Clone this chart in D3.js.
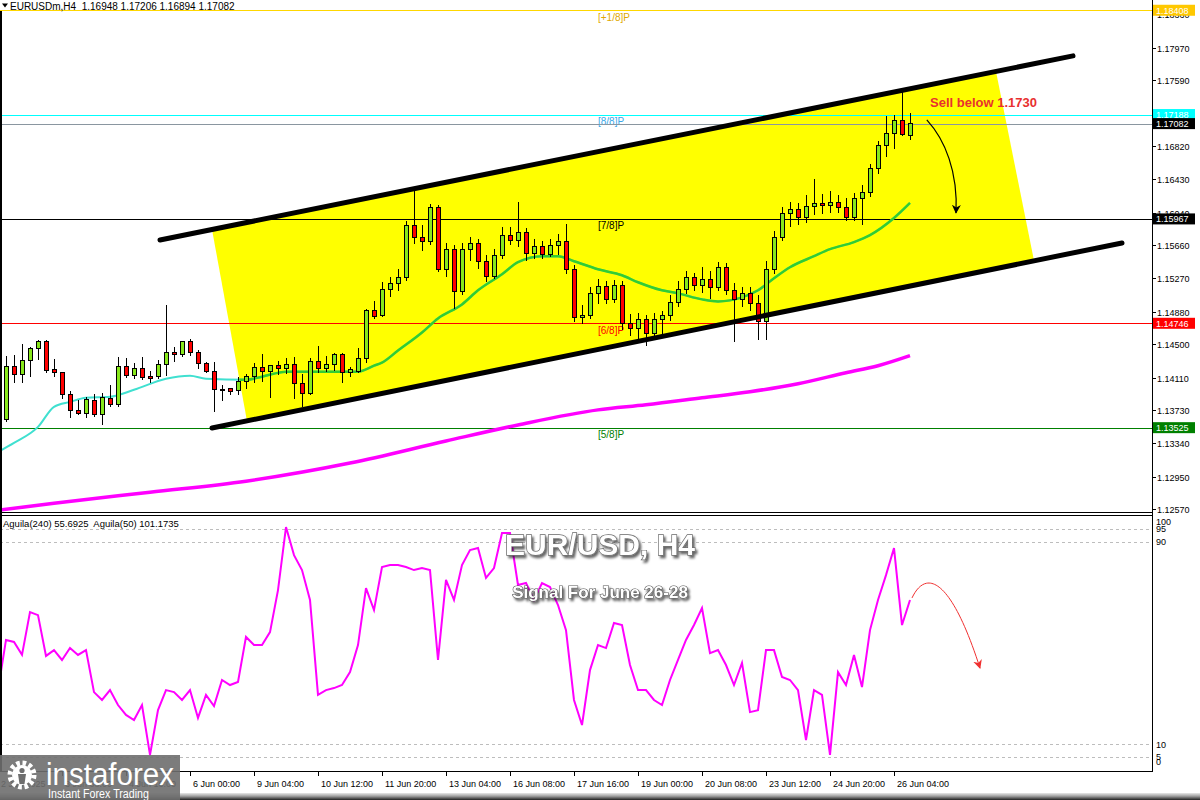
<!DOCTYPE html>
<html><head><meta charset="utf-8">
<script src="https://cdn.jsdelivr.net/npm/d3@7/dist/d3.min.js"></script>
<style>
html,body{margin:0;padding:0;background:#fff;}
svg{display:block;}
text{font-family:"Liberation Sans",Arial,sans-serif;white-space:pre;}
</style></head><body>
<svg id="chart" width="1200" height="800"></svg>
<script>
// ---------------- DATA ----------------
const symbol = "EURUSDm,H4";
const opens = [1.13616,1.14239,1.14145,1.14309,1.14450,1.14532,1.14203,1.14168,1.13910,1.13722,
1.13686,1.13839,1.13675,1.13863,1.13792,1.14239,1.14133,1.14215,1.14121,1.14121,
1.14262,1.14403,1.14380,1.14532,1.14403,1.14274,1.14180,1.13968,1.13980,1.13957,
1.14062,1.14121,1.14227,1.14180,1.14250,1.14215,1.14262,1.14039,1.13921,1.14297,
1.14215,1.14262,1.14380,1.14168,1.14180,1.14333,1.14897,1.14838,1.15143,1.15214,
1.15284,1.15895,1.15754,1.15707,1.16095,1.15378,1.15613,1.15120,1.15613,1.15684,
1.15472,1.15296,1.15543,1.15778,1.15719,1.15813,1.15566,1.15649,1.15555,1.15660,
1.15707,1.15378,1.14814,1.14838,1.15096,1.15179,1.15026,1.15190,1.14744,1.14685,
1.14791,1.14626,1.14791,1.14838,1.14991,1.15143,1.15284,1.15190,1.15261,1.15167,
1.15402,1.15132,1.15026,1.15096,1.14979,1.14767,1.15378,1.15754,1.16036,1.16083,
1.15989,1.16107,1.16142,1.16119,1.16154,1.16095,1.15989,1.16201,1.16271,1.16553,
1.16824,1.16965,1.17117,1.16948];
const highs = [1.14368,1.14380,1.14509,1.14474,1.14556,1.14556,1.14333,1.14180,1.13957,1.13851,
1.13886,1.13921,1.13933,1.14027,1.14356,1.14344,1.14286,1.14356,1.14192,1.14321,
1.14955,1.14474,1.14544,1.14568,1.14438,1.14297,1.14297,1.14027,1.13992,1.14121,
1.14156,1.14286,1.14391,1.14262,1.14309,1.14344,1.14356,1.14156,1.14344,1.14485,
1.14368,1.14403,1.14403,1.14239,1.14462,1.14909,1.15002,1.15226,1.15284,1.15378,
1.15942,1.16318,1.15895,1.16142,1.16130,1.15684,1.15660,1.15684,1.15754,1.15731,
1.15543,1.15613,1.15872,1.15872,1.16166,1.15860,1.15731,1.15707,1.15731,1.15790,
1.15907,1.15425,1.14955,1.15167,1.15261,1.15237,1.15249,1.15237,1.14850,1.14861,
1.14838,1.14861,1.14885,1.15073,1.15237,1.15355,1.15331,1.15402,1.15355,1.15461,
1.15449,1.15214,1.15167,1.15167,1.15073,1.15472,1.15825,1.16107,1.16166,1.16154,
1.16248,1.16436,1.16260,1.16295,1.16248,1.16212,1.16271,1.16365,1.16612,1.16882,
1.17176,1.17188,1.17470,1.17206];
const lows = [1.13592,1.14051,1.14051,1.14121,1.14321,1.14168,1.14121,1.13863,1.13639,1.13675,
1.13639,1.13651,1.13557,1.13769,1.13769,1.14109,1.14098,1.14086,1.14051,1.14098,
1.14133,1.14297,1.14356,1.14368,1.14215,1.14168,1.13710,1.13839,1.13910,1.13910,
1.13980,1.14051,1.14062,1.13874,1.14145,1.14156,1.13863,1.13769,1.13910,1.14168,
1.14180,1.14192,1.14051,1.14121,1.14168,1.14286,1.14791,1.14814,1.15049,1.15120,
1.15237,1.15672,1.15590,1.15660,1.15343,1.15284,1.14908,1.15073,1.15472,1.15378,
1.15226,1.15261,1.15496,1.15660,1.15637,1.15472,1.15496,1.15496,1.15519,1.15543,
1.15320,1.14756,1.14732,1.14791,1.14967,1.14967,1.14979,1.14673,1.14603,1.14556,
1.14485,1.14556,1.14579,1.14767,1.14932,1.15085,1.15120,1.15096,1.15026,1.15120,
1.15073,1.14532,1.14932,1.14885,1.14556,1.14556,1.15320,1.15707,1.15872,1.15895,
1.15919,1.16013,1.16025,1.16036,1.16036,1.15942,1.15942,1.15895,1.16224,1.16495,
1.16694,1.16788,1.16941,1.16894];
const closes = [1.14239,1.14145,1.14309,1.14450,1.14532,1.14192,1.14168,1.13910,1.13722,1.13686,
1.13851,1.13675,1.13874,1.13792,1.14239,1.14133,1.14215,1.14109,1.14098,1.14262,
1.14403,1.14380,1.14532,1.14403,1.14274,1.14180,1.13968,1.13957,1.13945,1.14062,
1.14121,1.14227,1.14180,1.14250,1.14215,1.14262,1.14039,1.13921,1.14297,1.14215,
1.14262,1.14380,1.14168,1.14203,1.14333,1.14897,1.14826,1.15143,1.15214,1.15284,
1.15895,1.15754,1.15707,1.16095,1.15378,1.15613,1.15120,1.15613,1.15684,1.15472,
1.15296,1.15543,1.15778,1.15719,1.15813,1.15566,1.15649,1.15555,1.15660,1.15707,
1.15378,1.14814,1.14838,1.15096,1.15179,1.15026,1.15190,1.14744,1.14685,1.14791,
1.14626,1.14791,1.14838,1.14991,1.15143,1.15284,1.15190,1.15261,1.15167,1.15402,
1.15132,1.15026,1.15096,1.14979,1.14767,1.15378,1.15754,1.16036,1.16083,1.15989,
1.16107,1.16142,1.16119,1.16154,1.16095,1.15989,1.16201,1.16271,1.16553,1.16824,
1.16965,1.17117,1.16953,1.17082];

// moving averages (sampled bars)
const maFastBars = [-1,1,4,6,8,10,13,16,20,23,25,30,32,35,44,46,47,49,52,54,57,59,62,64,67,69,71,74,77,79,82,84,87,89,92,94,96,98,101,103,106,108,111,113];
const maFastVals = [1.13240,1.13346,1.13534,1.13769,1.13827,1.13874,1.13886,1.13968,1.14098,1.14133,1.14098,1.14086,1.14121,1.14180,1.14180,1.14250,1.14286,1.14427,1.14638,1.14803,1.14967,1.15132,1.15320,1.15461,1.15531,1.15531,1.15472,1.15378,1.15308,1.15226,1.15132,1.15096,1.15026,1.15002,1.15049,1.15132,1.15273,1.15402,1.15531,1.15613,1.15696,1.15778,1.15978,1.16154];
const maSlowBars = [-1,6,18,30,43,55,64,74,80,87,93,99,105,109,113];
const maSlowVals = [1.12558,1.12641,1.12770,1.12899,1.13111,1.13369,1.13557,1.13733,1.13792,1.13874,1.13945,1.14039,1.14168,1.14250,1.14368];

// Aguila(240) indicator, from bar -1
const aguilaStartBar = -1;
const aguilaVals = [31.4,51.2,50.4,45.3,62.2,61.0,44.9,47.2,43.3,48.0,45.3,
47.2,30.6,27.5,31.4,25.5,21.6,19.6,25.5,5.8,23.5,
31.4,30.6,27.5,31.4,20.4,29.5,25.1,35.4,33.4,34.6,
52.4,49.2,49.2,54.3,70.9,95.8,84.7,78.8,67.0,29.5,
31.4,32.2,33.4,38.5,49.2,71.7,63.0,80.0,80.8,80.8,
80.0,78.8,79.6,78.8,43.3,74.9,67.0,80.8,86.7,87.5,
75.7,79.6,93.4,93.4,72.9,73.7,67.0,73.7,72.1,65.0,
55.1,27.5,17.6,39.3,49.2,48.0,57.9,57.1,41.3,31.4,
31.4,27.5,25.5,35.4,43.3,51.2,57.1,63.8,46.0,47.2,
41.3,33.4,42.1,22.7,23.5,47.2,47.2,36.6,35.4,31.4,
11.7,31.4,29.5,5.8,38.5,33.4,45.3,32.6,55.1,67.0,
76.8,87.5,57.1,67.0];
const aguilaHeader = "Aguila(240) 55.6925  Aguila(50) 101.1735";
const aguilaLevels = [95, 90, 10, 5];
const aguilaTickVals = [100, 95, 90, 10, 5, 0];

// levels
const levelPrices = [1.18408, 1.17188, 1.17082, 1.15967, 1.14746, 1.13525];
const levelNames  = ["[+1/8]P", "[8/8]P", "", "[7/8]P", "[6/8]P", "[5/8]P"];

// price axis (1.17200 is fully hidden behind the level boxes in the reference)
const priceTicks = ["1.12570","1.12950","1.13340","1.13730","1.14110","1.14500","1.14880","1.15270","1.15660","1.16040","1.16430","1.16820","1.17590","1.17970","1.18360"];

// time axis
const timeTickBars = [-1,7,15,23,31,39,47,55,63,71,79,87,95,103,111];
const timeTickLabels = ["2 Jun 2025","3 Jun 08:00","4 Jun 16:00","6 Jun 00:00","9 Jun 04:00","10 Jun 12:00","11 Jun 20:00","13 Jun 04:00","16 Jun 08:00","17 Jun 16:00","19 Jun 00:00","20 Jun 08:00","23 Jun 12:00","24 Jun 20:00","26 Jun 04:00"];

// channel drawings (bar index, price)
const channelUpper = [[19.25, 1.15721], [133.375, 1.17874]];
const channelLower = [[25.75, 1.13521], [139.5, 1.15686]];
const channelFill  = [[25.75, 1.15844], [123.75, 1.17692], [128.5, 1.15479], [30.125, 1.13603]];

// annotations
const sellText = "Sell below 1.1730";
const sellTextAt = [115.5, 1.17278];
const sellArrow = [[115.1, 1.17125], [117.4, 1.16891], [119.0, 1.16516], [118.75, 1.16037]];
const aguilaArrow = [[113.25, 67.8], [114.9, 78.8], [118.0, 76.9], [121.75, 40.1]];
const titleMain = "EUR/USD, H4";
const titleSub = "Signal For June 26-28";

// ---------------- CHART ----------------
const svg = d3.select("#chart");
const plotR = 1152, mainB = 512, indT = 515, indB = 771;
const x = d3.scaleLinear().domain([-0.75, 143.25]).range([0, 1152]);
const y = d3.scaleLinear().domain([1.12570, 1.17970]).range([509.3, 47.7]);
const yi = d3.scaleLinear().domain([0, 100]).range([769.6, 516.4]);

const defs = svg.append("defs");
defs.append("clipPath").attr("id","clipMain").append("rect").attr("x",0).attr("y",0).attr("width",plotR).attr("height",mainB);
defs.append("clipPath").attr("id","clipInd").append("rect").attr("x",0).attr("y",indT).attr("width",plotR).attr("height",indB-indT);
const chanPts = channelFill.map(d => [x(d[0]), y(d[1])]);
defs.append("clipPath").attr("id","clipChan").append("polygon").attr("points", chanPts.map(p=>p.join(",")).join(" "));
const f = defs.append("filter").attr("id","shadow").attr("x","-10%").attr("y","-30%").attr("width","130%").attr("height","170%");
f.append("feDropShadow").attr("dx",2).attr("dy",2.5).attr("stdDeviation",1.3).attr("flood-color","#000").attr("flood-opacity",0.6);
const grad = defs.append("linearGradient").attr("id","bottomBar").attr("x1",0).attr("y1",0).attr("x2",0).attr("y2",1);
grad.append("stop").attr("offset","0%").attr("stop-color","#e8e8e8");
grad.append("stop").attr("offset","45%").attr("stop-color","#a0a0a0");
grad.append("stop").attr("offset","100%").attr("stop-color","#202020");
defs.append("marker").attr("id","arrBlack").attr("viewBox","0 0 10 10").attr("refX",9).attr("refY",5)
  .attr("markerWidth",9).attr("markerHeight",9).attr("orient","auto").attr("markerUnits","userSpaceOnUse")
  .append("path").attr("d","M0,0 L10,5 L0,10 L3,5 Z").attr("fill","#000");
defs.append("marker").attr("id","arrRed").attr("viewBox","0 0 10 10").attr("refX",9).attr("refY",5)
  .attr("markerWidth",9).attr("markerHeight",9).attr("orient","auto").attr("markerUnits","userSpaceOnUse")
  .append("path").attr("d","M0,0 L10,5 L0,10 L3,5 Z").attr("fill","#f03030");

svg.append("rect").attr("width",1200).attr("height",800).attr("fill","#fff");

// ---- main panel ----
const main = svg.append("g").attr("clip-path","url(#clipMain)");
main.append("polygon").attr("points", chanPts.map(p=>p.join(",")).join(" ")).attr("fill","#ffff00");

const levelColors = ["#ffd700", "#00ffff", "#8a96a0", "#000000", "#ff0000", "#008000"];
const levelTextColors = ["#e0a800", "#3aa8e8", "#000", "#000000", "#ff0000", "#008000"];
levelPrices.forEach((p, k) => {
  main.append("line").attr("x1",0).attr("x2",plotR)
    .attr("y1", Math.round(y(p))+0.5).attr("y2", Math.round(y(p))+0.5)
    .attr("stroke", levelColors[k]).attr("stroke-width",1);
  if (levelNames[k]) {
    main.append("text").attr("x", x(74)).attr("y", y(p)+10.5)
      .attr("font-size", 10).attr("fill", levelTextColors[k]).text(levelNames[k]);
  }
});

// moving averages
const maLine = d3.line().x(d=>x(d[0])).y(d=>y(d[1])).curve(d3.curveMonotoneX);
const slow = maSlowBars.map((b,k)=>[b, maSlowVals[k]]);
main.append("path").attr("d", maLine(slow)).attr("fill","none").attr("stroke","#ff00ff").attr("stroke-width",3.5);
const fast = maFastBars.map((b,k)=>[b, maFastVals[k]]);
main.append("path").attr("d", maLine(fast)).attr("fill","none").attr("stroke","#40e0d0").attr("stroke-width",2);
main.append("path").attr("d", maLine(fast)).attr("fill","none").attr("stroke","#33cc33").attr("stroke-width",2.5).attr("clip-path","url(#clipChan)");

// candles
const bars = d3.range(opens.length).map(i => ({i, o:opens[i], h:highs[i], l:lows[i], c:closes[i]}));
const cg = main.append("g").attr("shape-rendering","crispEdges");
cg.selectAll("line.wick").data(bars).join("line").attr("class","wick")
  .attr("x1", d=>x(d.i)+0.5).attr("x2", d=>x(d.i)+0.5)
  .attr("y1", d=>y(d.h)).attr("y2", d=>y(d.l)).attr("stroke","#000").attr("stroke-width",1);
cg.selectAll("rect.body").data(bars).join("rect").attr("class","body")
  .attr("x", d=>x(d.i)-1.5).attr("width",4)
  .attr("y", d=>Math.min(y(d.o), y(d.c)))
  .attr("height", d=>Math.max(1, Math.abs(y(d.o)-y(d.c))))
  .attr("fill", d=> d.c >= d.o ? "#88e81c" : "#ff0000")
  .attr("stroke","#000").attr("stroke-width",1);

// channel lines
[channelUpper, channelLower].forEach(seg => {
  main.append("line").attr("x1", x(seg[0][0])).attr("y1", y(seg[0][1]))
    .attr("x2", x(seg[1][0])).attr("y2", y(seg[1][1]))
    .attr("stroke","#000").attr("stroke-width",5).attr("stroke-linecap","round");
});

// annotation
main.append("text").attr("x", x(sellTextAt[0])).attr("y", y(sellTextAt[1]))
  .attr("font-size",13).attr("font-weight","bold").attr("fill","#e8302f").text(sellText);
const sa = sellArrow.map(d=>[x(d[0]), y(d[1])]);
main.append("path").attr("d", `M${sa[0]} C${sa[1]} ${sa[2]} ${sa[3]}`)
  .attr("fill","none").attr("stroke","#000").attr("stroke-width",1.2).attr("marker-end","url(#arrBlack)");

// header
svg.append("path").attr("d","M2,3.5 L8,3.5 L5,7.5 Z").attr("fill","#000");
const last = bars[bars.length-1];
svg.append("text").attr("x",10).attr("y",9.5).attr("font-size",10).attr("fill","#000")
  .text(`${symbol}  ${last.o.toFixed(5)} ${last.h.toFixed(5)} ${last.l.toFixed(5)} ${last.c.toFixed(5)}`);

// ---- indicator panel ----
const ind = svg.append("g").attr("clip-path","url(#clipInd)");
aguilaLevels.forEach(v => {
  ind.append("line").attr("x1",0).attr("x2",plotR).attr("y1",Math.round(yi(v))+0.5).attr("y2",Math.round(yi(v))+0.5)
    .attr("stroke","#bdbdbd").attr("stroke-dasharray","3,3").attr("stroke-width",1);
});
const aLine = d3.line().x((d,k)=>x(aguilaStartBar+k)).y(d=>yi(d));
ind.append("path").attr("d", aLine(aguilaVals)).attr("fill","none").attr("stroke","#ff00ff").attr("stroke-width",2);
const ra = aguilaArrow.map(d=>[x(d[0]), yi(d[1])]);
ind.append("path").attr("d", `M${ra[0]} C${ra[1]} ${ra[2]} ${ra[3]}`)
  .attr("fill","none").attr("stroke","#f03030").attr("stroke-width",1).attr("marker-end","url(#arrRed)");

svg.append("text").attr("x",3).attr("y",527).attr("font-size",9.5).attr("fill","#000").text(aguilaHeader);

// titles
svg.append("text").attr("x",600).attr("y",555).attr("text-anchor","middle")
  .attr("font-size",30).attr("font-weight","bold").attr("fill","#fff")
  .attr("stroke","#6a6a6a").attr("stroke-width",1.4).attr("paint-order","stroke")
  .attr("filter","url(#shadow)").text(titleMain);
svg.append("text").attr("x",600).attr("y",598).attr("text-anchor","middle")
  .attr("font-size",17).attr("font-weight","bold").attr("fill","#fff")
  .attr("stroke","#555").attr("stroke-width",1.2).attr("paint-order","stroke")
  .attr("filter","url(#shadow)").text(titleSub);

// ---- frames ----
const fr = svg.append("g").attr("shape-rendering","crispEdges");
fr.append("rect").attr("x",0).attr("y",11).attr("width",2).attr("height",indB-11).attr("fill","#000");
fr.append("line").attr("x1",0).attr("x2",plotR+1).attr("y1",mainB+0.5).attr("y2",mainB+0.5).attr("stroke","#000");
fr.append("line").attr("x1",0).attr("x2",plotR+1).attr("y1",indT+0.5).attr("y2",indT+0.5).attr("stroke","#000");
fr.append("line").attr("x1",0).attr("x2",plotR+1).attr("y1",indB+0.5).attr("y2",indB+0.5).attr("stroke","#000");
fr.append("line").attr("x1",plotR+0.5).attr("x2",plotR+0.5).attr("y1",0).attr("y2",indB).attr("stroke","#000");

// price axis
priceTicks.forEach(t => {
  const yy = Math.round(y(+t));
  fr.append("line").attr("x1",plotR).attr("x2",plotR+4).attr("y1",yy+0.5).attr("y2",yy+0.5).attr("stroke","#000");
  svg.append("text").attr("x",plotR+5).attr("y",yy+3.5).attr("font-size",9).attr("fill","#000").text(t);
});
const boxFill = ["#ffc800", "#00ffff", "#000000", "#000000", "#ff0000", "#008000"];
levelPrices.forEach((p,k) => {
  const yy = y(p);
  svg.append("rect").attr("x",plotR+1).attr("y",yy-5.5).attr("width",42).attr("height",11).attr("fill",boxFill[k]);
  svg.append("text").attr("x",plotR+4).attr("y",yy+3.5).attr("font-size",9).attr("fill","#fff").text(p.toFixed(5));
});

// indicator axis
aguilaTickVals.forEach(v => {
  let yy = yi(v);
  if (v === 100) yy = 521.5;
  if (v === 0) yy = 761;
  if (v === 95) yy = 528;
  if (v === 5) yy = 756;
  svg.append("text").attr("x",plotR+4).attr("y",yy+3.5).attr("font-size",9).attr("fill","#000").text(v);
});

// time axis
timeTickBars.forEach((b,k) => {
  const xx = Math.round(x(b));
  fr.append("line").attr("x1",xx+0.5).attr("x2",xx+0.5).attr("y1",indB).attr("y2",indB+5).attr("stroke","#000");
  svg.append("text").attr("x",xx+3).attr("y",787).attr("font-size",9).attr("fill","#000").text(timeTickLabels[k]);
});

// bottom strip
svg.append("rect").attr("x",0).attr("y",793).attr("width",1200).attr("height",7).attr("fill","url(#bottomBar)");

// logo
const logo = svg.append("g");
logo.append("rect").attr("x",0).attr("y",755).attr("width",180).attr("height",45).attr("fill","#6e6e6e").attr("opacity",0.9);
const gear = logo.append("g").attr("transform","translate(22,775)");
gear.append("circle").attr("r",12).attr("fill","none").attr("stroke","#fff").attr("stroke-width",5).attr("stroke-dasharray","3.6,2.7");
gear.append("circle").attr("r",10).attr("fill","#fff");
gear.append("circle").attr("cx",0).attr("cy",-4.5).attr("r",2.6).attr("fill","#6e6e6e");
gear.append("path").attr("d","M-4,-1 L4,-1 L2.5,9 L-2.5,9 Z").attr("fill","#6e6e6e");
logo.append("text").attr("x",46).attr("y",785).attr("font-size",31).attr("fill","#fff")
  .attr("textLength",128).attr("lengthAdjust","spacingAndGlyphs").text("instaforex");
logo.append("text").attr("x",48).attr("y",798).attr("font-size",12).attr("fill","#fff")
  .attr("textLength",101).attr("lengthAdjust","spacingAndGlyphs").text("Instant Forex Trading");
</script></body></html>
